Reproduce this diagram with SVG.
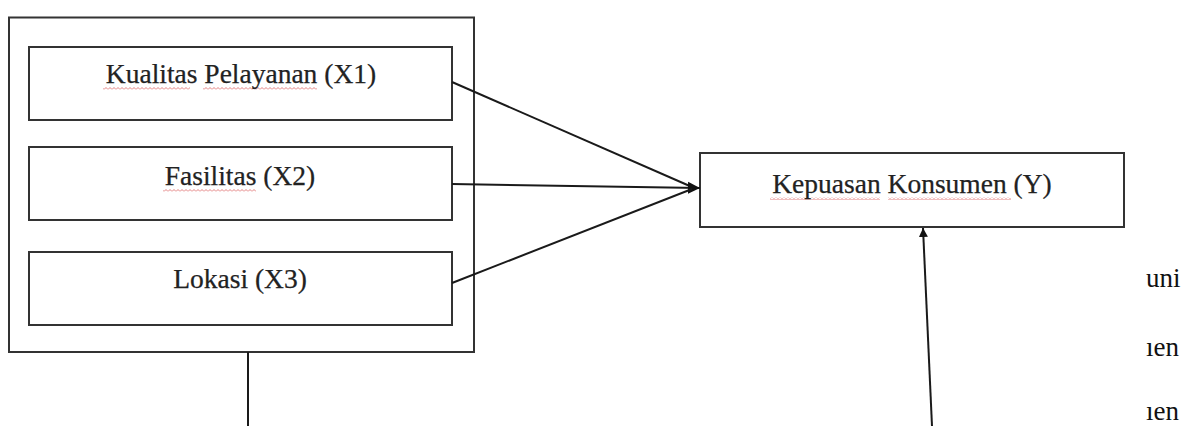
<svg xmlns="http://www.w3.org/2000/svg" width="1188" height="426" viewBox="0 0 1188 426">
  <style>
    .box { fill: #ffffff; stroke: #333333; stroke-width: 2; }
    .lbl { font-family: "Liberation Serif", "Times New Roman", serif; font-size: 27.5px; fill: #222222; text-anchor: middle; stroke: #222222; stroke-width: 0.25; }
    .side { font-family: "Liberation Serif", "Times New Roman", serif; font-size: 27px; fill: #111111; }
    .conn { stroke: #1a1a1a; stroke-width: 2; fill: none; }
  </style>
  <defs>
    <marker id="arrowBig" viewBox="0 0 10 10" refX="10" refY="5" markerUnits="userSpaceOnUse" markerWidth="12" markerHeight="13" orient="auto">
      <path d="M0,0 L10,5 L0,10 z" fill="#111111"/>
    </marker>
    <marker id="arrowSmall" viewBox="0 0 10 10" refX="10" refY="5" markerUnits="userSpaceOnUse" markerWidth="9" markerHeight="9" orient="auto">
      <path d="M0,0 L10,5 L0,10 z" fill="#111111"/>
    </marker>
    <pattern id="squig" width="4" height="3" patternUnits="userSpaceOnUse">
      <path d="M0 2.5 L2 0.5 L4 2.5" stroke="#e07070" stroke-width="0.9" fill="none"/>
    </pattern>
  </defs>
  <rect width="1188" height="426" fill="#ffffff"/>

  <g id="group-x">
    <rect class="box" x="9" y="17.5" width="465" height="334.5"/>
  </g>

  <g id="node-x1">
    <rect class="box" x="29" y="47" width="423" height="73"/>
    <rect x="103" y="87" width="87" height="3" fill="url(#squig)"/>
    <rect x="203" y="87" width="114" height="3" fill="url(#squig)"/>
    <text class="lbl" x="241" y="83">Kualitas Pelayanan (X1)</text>
  </g>

  <g id="node-x2">
    <rect class="box" x="29" y="147" width="423" height="73"/>
    <rect x="163" y="189" width="93" height="3" fill="url(#squig)"/>
    <text class="lbl" x="240" y="185">Fasilitas (X2)</text>
  </g>

  <g id="node-x3">
    <rect class="box" x="29" y="252" width="423" height="73"/>
    <text class="lbl" x="240" y="288">Lokasi (X3)</text>
  </g>

  <g id="node-y">
    <rect class="box" x="700" y="153" width="424" height="74"/>
    <rect x="770" y="197" width="110" height="3" fill="url(#squig)"/>
    <rect x="888" y="197" width="123" height="3" fill="url(#squig)"/>
    <text class="lbl" x="912" y="193">Kepuasan Konsumen (Y)</text>
  </g>

  <g id="connectors">
    <line class="conn" x1="452" y1="82" x2="692" y2="187"/>
    <line class="conn" x1="452" y1="184" x2="700" y2="188" marker-end="url(#arrowBig)"/>
    <line class="conn" x1="452" y1="283" x2="692" y2="189"/>
    <line class="conn" x1="248" y1="352" x2="248" y2="426"/>
    <line class="conn" x1="932" y1="426" x2="923" y2="228" marker-end="url(#arrowSmall)"/>
  </g>

  <g id="side-text">
    <text class="side" x="1146" y="287">uni</text>
    <text class="side" x="1146" y="356">ıen</text>
    <text class="side" x="1146" y="420">ıen</text>
  </g>
</svg>
